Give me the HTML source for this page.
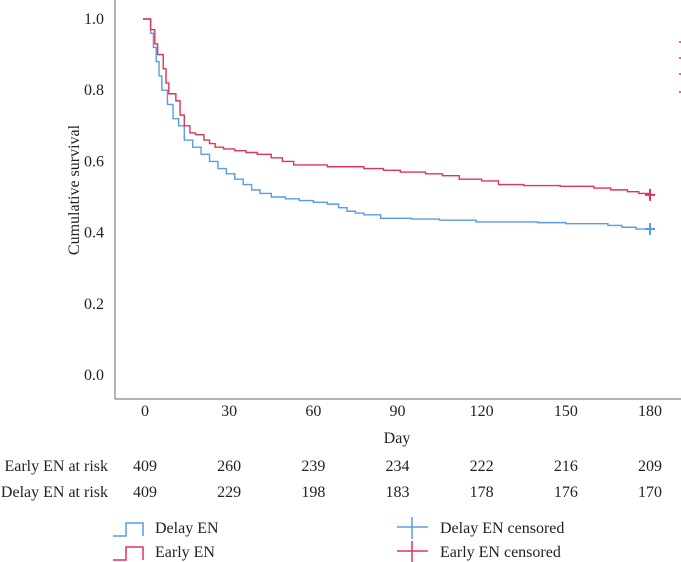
<!DOCTYPE html>
<html><head><meta charset="utf-8"><style>
body{margin:0;background:#fff;}
svg{display:block;}
svg text{font-family:"Liberation Serif","DejaVu Serif",serif;}
</style></head><body>
<svg id="c" width="681" height="562" viewBox="0 0 681 562" font-family="Liberation Serif, serif">
<line x1="115" y1="0" x2="115" y2="399" stroke="#999" stroke-width="1.5"/>
<line x1="115" y1="399" x2="681" y2="399" stroke="#999" stroke-width="1.5"/>
<text x="0" y="0" transform="translate(79,190) rotate(-90)" text-anchor="middle" font-size="16" fill="#222">Cumulative survival</text>
<text x="397" y="443" text-anchor="middle" font-size="16" fill="#222">Day</text>
<g id="ticks"></g>
<g id="series"></g>
<g id="risk"></g>
<g>
<path d="M113,536 H126 V523 H143 V536" fill="none" stroke="#5b9be6" stroke-width="1.5"/>
<text x="155" y="533" font-size="16" fill="#222">Delay EN</text>
<path d="M113,560 H126 V547 H143 V560" fill="none" stroke="#e0335a" stroke-width="1.5"/>
<text x="155" y="557" font-size="16" fill="#222">Early EN</text>
<path d="M397,527 H428 M412,517 V539" stroke="#5b9be6" stroke-width="1.5"/>
<text x="440" y="533" font-size="16" fill="#222">Delay EN censored</text>
<path d="M397,551 H428 M412,541 V562" stroke="#e0335a" stroke-width="1.5"/>
<text x="440" y="557" font-size="16" fill="#222">Early EN censored</text>
<path d="M679,42 h2 M679,58 h2 M679,74 h2 M679,92 h2" stroke="#e0335a" stroke-width="1.5"/>
</g>
</svg>
<script>
const yTicks=[0,0.2,0.4,0.6,0.8,1.0];
const xTicks=[0,30,60,90,120,150,180];
const earlyDays=[0,2,3.5,4.5,6.5,7.5,8.5,11,12.5,14,16,18,21,23,25,28,32,36,40,45,49,53,65,78,85,91,100,106,112,120,126,135,148,160,166,172,176];
const earlySurv=[1.0,0.97,0.93,0.90,0.86,0.82,0.79,0.77,0.73,0.70,0.68,0.675,0.66,0.65,0.64,0.635,0.63,0.625,0.62,0.61,0.60,0.59,0.585,0.58,0.575,0.57,0.565,0.56,0.55,0.545,0.535,0.532,0.53,0.525,0.52,0.515,0.51];
const delayDays=[0,2,3,4,5,6,8,10,12,14,17,20,23,26,29,32,35,38,41,45,50,55,60,65,69,72,75,78,84,95,105,118,130,140,150,165,170,175];
const delaySurv=[1.0,0.96,0.92,0.88,0.84,0.80,0.76,0.72,0.70,0.66,0.64,0.62,0.60,0.58,0.565,0.55,0.535,0.52,0.51,0.50,0.495,0.49,0.485,0.48,0.47,0.46,0.455,0.45,0.44,0.438,0.435,0.43,0.43,0.428,0.425,0.42,0.415,0.41];
const earlyEnd=0.506, delayEnd=0.41, endDay=180;
const earlyRisk=[409,260,239,234,222,216,209];
const delayRisk=[409,229,198,183,178,176,170];
const xs=d=>145+d*(505/180);
const ys=s=>375-s*356;
const NS='http://www.w3.org/2000/svg';
const T=document.getElementById('ticks'),S=document.getElementById('series'),R=document.getElementById('risk');
function txt(p,x,y,s,anchor){const t=document.createElementNS(NS,'text');t.setAttribute('x',x);t.setAttribute('y',y);t.setAttribute('font-size','16');t.setAttribute('font-family','Liberation Serif, serif');t.setAttribute('fill','#222');t.setAttribute('text-anchor',anchor);t.textContent=s;p.appendChild(t);return t;}
yTicks.forEach(v=>{const t=txt(T,104,ys(v)+5,v.toFixed(1),'end');

});
xTicks.forEach(v=>{const t=txt(T,xs(v),416,String(v),'middle');

});
function step(days,surv,endS,color,name){
 let d='M'+(xs(days[0])-2)+','+ys(surv[0]);
 for(let i=1;i<days.length;i++){d+=' H'+xs(days[i])+' V'+ys(surv[i]);}
 d+=' H'+xs(endDay)+' V'+ys(endS);
 const p=document.createElementNS(NS,'path');p.setAttribute('d',d);p.setAttribute('fill','none');p.setAttribute('stroke',color);p.setAttribute('stroke-width','1.4');
 
 
 S.appendChild(p);
 const c=document.createElementNS(NS,'path');const x=xs(endDay),y=ys(endS);
 c.setAttribute('d','M'+(x-5)+','+y+' H'+(x+5)+' M'+x+','+(y-6)+' V'+(y+6));c.setAttribute('stroke',color);c.setAttribute('stroke-width','2');
 
 
 S.appendChild(c);
}
step(delayDays,delaySurv,delayEnd,'#5b9be6','delay-en');
step(earlyDays,earlySurv,earlyEnd,'#e0335a','early-en');
let l1=txt(R,108,471,'Early EN at risk','end');


let l2=txt(R,108,497,'Delay EN at risk','end');


xTicks.forEach((v,i)=>{
 const a=txt(R,xs(v),471,String(earlyRisk[i]),'middle');
 
 
 const b=txt(R,xs(v),497,String(delayRisk[i]),'middle');
 
 
});
</script>
</body></html>
